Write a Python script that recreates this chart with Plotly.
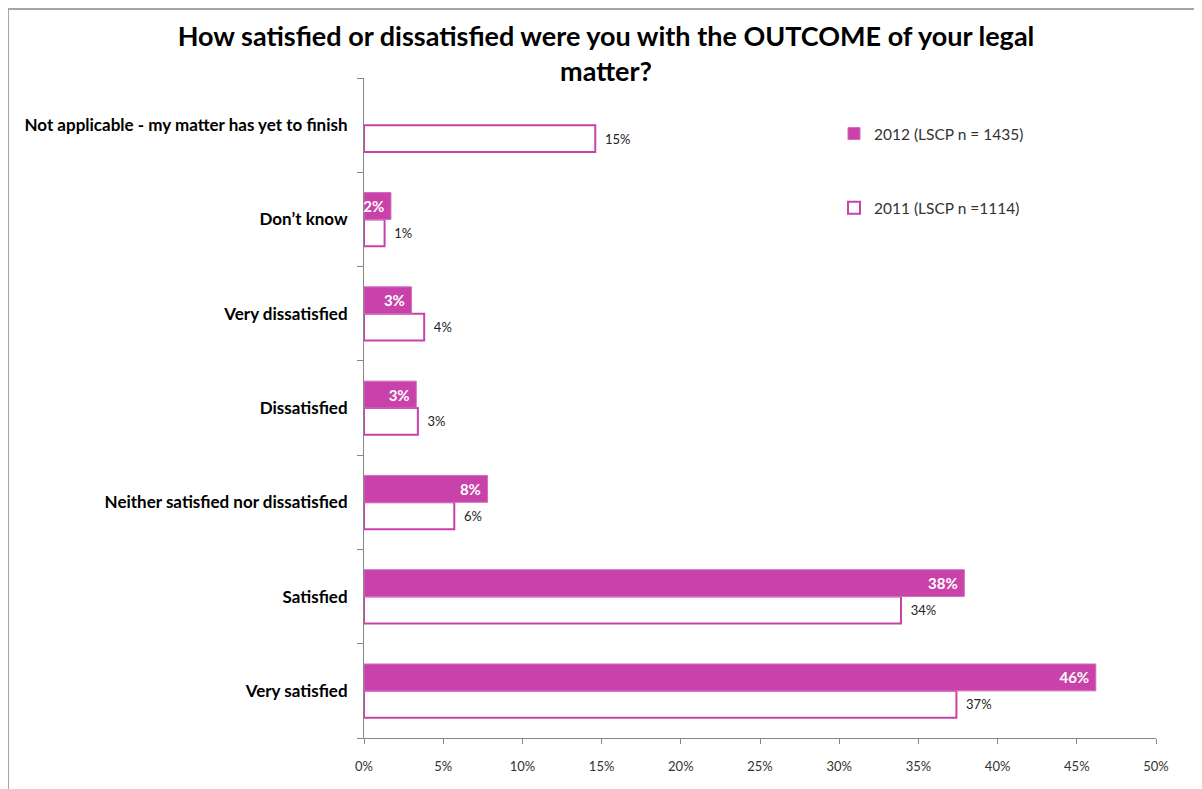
import plotly.graph_objects as go

categories = [
    "Very satisfied",
    "Satisfied",
    "Neither satisfied nor dissatisfied",
    "Dissatisfied",
    "Very dissatisfied",
    "Don\u2019t know",
    "Not applicable - my matter has yet to finish",
]
values_2012 = [46.2, 37.9, 7.8, 3.3, 3.0, 1.7, None]
values_2011 = [37.4, 33.9, 5.7, 3.4, 3.8, 1.3, 14.6]
x_ticks = [0, 5, 10, 15, 20, 25, 30, 35, 40, 45, 50]
x_tick_labels = [f"{t}%" for t in x_ticks]

MAGENTA = "#C842AA"
FONT = "Lato"
NB = "\u00a0"

# page body has an 8px margin: work in screenshot pixels, subtract offset
OFF = 8
W, H = 1202 - OFF, 789 - OFF
L, R, T, B = 364 - OFF, 1156 - OFF, 78 - OFF, 738 - OFF
pw, ph = R - L, B - T

def px(xs):
    return (xs - OFF - L) / pw

def py(ys):
    return (B - (ys - OFF)) / ph

fig = go.Figure()
fig.add_trace(go.Bar(
    y=categories, x=values_2011, orientation="h",
    name="2011 (LSCP n =1114)", legendgroup="b", legendrank=2,
    marker=dict(color="white", line=dict(color=MAGENTA, width=2)),
    texttemplate=NB + NB + "%{x:.0f}%", textposition="outside",
    textfont=dict(family=FONT, size=13, color="#222222"),
    cliponaxis=False,
))
fig.add_trace(go.Bar(
    y=categories, x=values_2012, orientation="h",
    name="2012 (LSCP n = 1435)", legendgroup="a", legendrank=1,
    marker=dict(color=MAGENTA, line=dict(color="#D46CBE", width=1)),
    texttemplate="%{x:.0f}%" + NB, textposition="inside", insidetextanchor="end",
    constraintext="none",
    textfont=dict(family=FONT, size=15, color="white", weight="bold"),
))

fig.update_layout(
    width=W, height=H,
    margin=dict(l=L, r=W - R, t=T, b=H - B, pad=0),
    paper_bgcolor="white", plot_bgcolor="white",
    barmode="group", bargap=0.43, bargroupgap=0,
    title=dict(
        text="How satisfied or dissatisfied were you with the OUTCOME of your legal<br>matter?",
        x=(606 - OFF) / W, xanchor="center", xref="container",
        y=1 - (46 - OFF) / H, yanchor="middle", yref="container",
        font=dict(family=FONT, size=27, color="black", weight="bold"),
    ),
    font=dict(family=FONT, color="#333333"),
    xaxis=dict(
        range=[0, 50], tickvals=x_ticks, ticktext=x_tick_labels,
        showgrid=False, zeroline=False,
        showline=True, linecolor="#868686", linewidth=1,
        ticks="outside", tickcolor="#868686", ticklen=5,
        tickfont=dict(family=FONT, size=13, color="#333333"),
        ticklabelstandoff=11,
    ),
    yaxis=dict(
        showgrid=False, zeroline=False,
        showline=True, linecolor="#868686", linewidth=1,
        ticks="outside", tickson="boundaries", tickcolor="#868686", ticklen=6,
        tickfont=dict(family=FONT, size=17, color="black", weight="bold"),
        ticklabelstandoff=12,
    ),
    legend=dict(
        x=px(834), y=py(117), xanchor="left", yanchor="top",
        traceorder="grouped", tracegroupgap=51,
        font=dict(family=FONT, size=15.5, color="#333333"),
        bgcolor="rgba(0,0,0,0)",
    ),
    showlegend=True,
    shapes=[
        dict(type="line", xref="paper", yref="paper",
             x0=px(8), x1=px(8), y0=py(H + 20), y1=py(9),
             line=dict(color="#A6A6A6", width=2)),
        dict(type="line", xref="paper", yref="paper",
             x0=px(8), x1=px(W + 20), y0=py(9), y1=py(9),
             line=dict(color="#A6A6A6", width=2)),
    ],
)

fig.write_html("out.html")
